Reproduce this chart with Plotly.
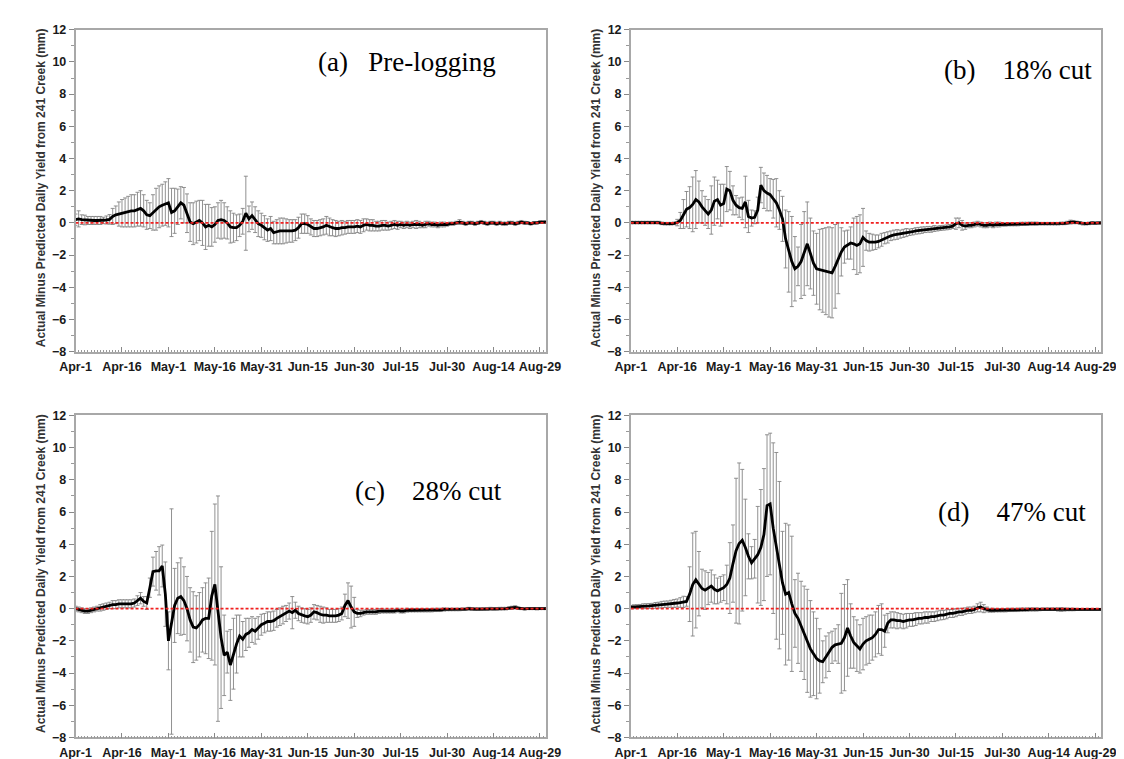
import plotly.graph_objects as go

# ---------------- data ----------------
days = list(range(153))  # day offset from Apr-1
tick_days = [0, 15, 30, 45, 60, 75, 90, 105, 120, 135, 150]
tick_labels = ["Apr-1", "Apr-16", "May-1", "May-16", "May-31", "Jun-15",
               "Jun-30", "Jul-15", "Jul-30", "Aug-14", "Aug-29"]

mean_a = [0.20, 0.25, 0.20, 0.18, 0.15, 0.15, 0.15, 0.15, 0.15, 0.15, 0.18, 0.22,
          0.40, 0.50, 0.55, 0.60, 0.65, 0.70, 0.75, 0.75, 0.85, 0.90, 0.75, 0.50,
          0.45, 0.65, 0.85, 1.00, 1.10, 1.20, 1.25, 0.65, 0.75, 1.00, 1.25, 1.10,
          0.60, 0.05, -0.05, 0.05, 0.15, 0.00, -0.25, -0.15, -0.25, -0.10, 0.15, 0.20,
          0.15, 0.00, -0.25, -0.30, -0.30, -0.15, 0.10, 0.60, 0.25, 0.45, 0.20, -0.05,
          -0.15, -0.30, -0.45, -0.35, -0.60, -0.55, -0.50, -0.50, -0.50, -0.50, -0.50, -0.45,
          -0.30, -0.05, -0.05, -0.10, -0.25, -0.35, -0.35, -0.30, -0.25, -0.15, -0.25, -0.30,
          -0.35, -0.35, -0.30, -0.30, -0.25, -0.25, -0.25, -0.20, -0.25, -0.15, -0.10, -0.15,
          -0.15, -0.20, -0.20, -0.15, -0.15, -0.20, -0.15, -0.10, -0.15, -0.10, -0.15, -0.10,
          -0.15, -0.10, -0.10, -0.10, -0.15, -0.10, -0.05, -0.10, -0.10, -0.15, -0.10, -0.10,
          -0.10, -0.05, -0.05, 0.00, 0.05, 0.00, -0.05, 0.00, 0.00, -0.05, 0.00, 0.05,
          0.00, -0.05, 0.00, 0.00, -0.05, 0.00, -0.05, -0.05, 0.00, 0.00, -0.05, 0.00,
          0.05, 0.00, 0.00, -0.05, 0.00, 0.00, 0.05, 0.05, 0.05]
err_a = [0.35, 0.50, 0.30, 0.30, 0.25, 0.25, 0.25, 0.25, 0.25, 0.20, 0.25, 0.30,
         0.50, 0.55, 0.75, 0.85, 0.90, 0.95, 1.00, 1.00, 1.05, 1.10, 1.00, 0.90,
         0.80, 1.10, 1.30, 1.30, 1.30, 1.35, 1.50, 1.50, 1.40, 1.10, 1.00, 1.10,
         1.20, 1.20, 1.30, 1.30, 1.25, 1.40, 1.40, 1.30, 1.20, 1.10, 1.10, 1.20,
         1.10, 1.00, 1.00, 0.90, 0.80, 0.70, 0.80, 2.30, 0.80, 0.85, 0.80, 0.80,
         0.75, 0.75, 0.70, 0.75, 0.70, 0.75, 0.80, 0.80, 0.75, 0.70, 0.70, 0.65,
         0.65, 0.60, 0.60, 0.55, 0.50, 0.50, 0.50, 0.50, 0.50, 0.55, 0.55, 0.50,
         0.50, 0.45, 0.45, 0.40, 0.40, 0.40, 0.40, 0.40, 0.40, 0.40, 0.35, 0.35,
         0.35, 0.30, 0.30, 0.30, 0.30, 0.25, 0.25, 0.25, 0.25, 0.20, 0.20, 0.20,
         0.20, 0.20, 0.25, 0.20, 0.15, 0.20, 0.15, 0.15, 0.15, 0.15, 0.15, 0.15,
         0.10, 0.10, 0.10, 0.10, 0.15, 0.10, 0.10, 0.10, 0.10, 0.10, 0.10, 0.10,
         0.10, 0.10, 0.10, 0.10, 0.10, 0.10, 0.10, 0.10, 0.10, 0.10, 0.10, 0.10,
         0.10, 0.10, 0.08, 0.08, 0.08, 0.08, 0.08, 0.08, 0.08]

mean_b = [0.02, 0.02, 0.02, 0.02, 0.02, 0.02, 0.02, 0.02, 0.02, 0.02, -0.03, -0.05,
          -0.05, -0.05, -0.03, 0.02, 0.15, 0.55, 0.85, 0.95, 1.15, 1.45, 1.30, 1.00,
          0.75, 0.55, 0.80, 1.35, 1.45, 1.10, 1.20, 2.10, 2.00, 1.40, 1.10, 0.95,
          0.90, 1.30, 0.40, 0.30, 0.35, 0.80, 2.35, 2.00, 1.85, 1.75, 1.50, 1.25,
          0.80, 0.25, -1.00, -1.80, -2.40, -2.85, -2.70, -2.40, -1.90, -1.30, -1.90, -2.50,
          -2.85, -2.90, -2.95, -3.00, -3.05, -3.10, -2.70, -2.20, -1.80, -1.50, -1.35, -1.25,
          -1.30, -1.40, -1.30, -0.90, -1.10, -1.20, -1.20, -1.20, -1.15, -1.05, -0.95, -0.90,
          -0.80, -0.75, -0.72, -0.70, -0.65, -0.60, -0.58, -0.55, -0.50, -0.48, -0.45, -0.42,
          -0.40, -0.40, -0.35, -0.35, -0.32, -0.30, -0.28, -0.25, -0.20, -0.05, 0.00, -0.15,
          -0.20, -0.15, -0.15, -0.10, -0.05, -0.10, -0.15, -0.15, -0.10, -0.15, -0.10, -0.10,
          -0.10, -0.10, -0.08, -0.08, -0.08, -0.08, -0.06, -0.06, -0.06, -0.05, -0.05, -0.05,
          -0.05, -0.05, -0.05, -0.05, -0.05, -0.05, -0.05, -0.03, -0.03, 0.00, 0.05, 0.05,
          0.03, 0.00, -0.05, -0.05, -0.03, 0.00, -0.02, 0.00, 0.00]
err_b = [0.08, 0.08, 0.08, 0.08, 0.08, 0.08, 0.08, 0.08, 0.08, 0.08, 0.08, 0.08,
         0.08, 0.08, 0.08, 0.20, 0.50, 0.90, 1.10, 1.30, 1.70, 1.80, 1.30, 1.00,
         0.90, 0.90, 1.50, 1.50, 1.20, 1.30, 1.20, 1.40, 1.20, 0.90, 0.60, 0.60,
         0.70, 1.60, 1.00, 0.50, 0.40, 0.80, 1.10, 1.10, 1.10, 1.00, 1.20, 1.50,
         1.20, 1.40, 1.80, 2.50, 2.80, 2.00, 1.20, 2.30, 2.60, 2.60, 2.20, 2.00,
         2.20, 2.50, 2.60, 2.70, 2.80, 2.80, 2.60, 2.20, 1.50, 1.00, 0.90, 1.00,
         1.60, 1.80, 1.80, 1.80, 0.60, 0.55, 0.50, 0.45, 0.40, 0.40, 0.35, 0.35,
         0.30, 0.30, 0.30, 0.25, 0.25, 0.25, 0.20, 0.20, 0.20, 0.20, 0.20, 0.18,
         0.18, 0.18, 0.18, 0.15, 0.15, 0.15, 0.15, 0.15, 0.15, 0.35, 0.30, 0.30,
         0.20, 0.15, 0.15, 0.15, 0.15, 0.15, 0.15, 0.15, 0.15, 0.15, 0.15, 0.15,
         0.10, 0.10, 0.10, 0.10, 0.10, 0.10, 0.10, 0.10, 0.10, 0.10, 0.10, 0.10,
         0.08, 0.08, 0.08, 0.08, 0.08, 0.08, 0.08, 0.08, 0.08, 0.10, 0.12, 0.10,
         0.08, 0.08, 0.08, 0.08, 0.08, 0.08, 0.08, 0.08, 0.08]

mean_c = [0.00, -0.05, -0.10, -0.15, -0.15, -0.10, -0.05, 0.00, 0.05, 0.10, 0.15, 0.20,
          0.25, 0.25, 0.30, 0.30, 0.30, 0.30, 0.30, 0.35, 0.50, 0.65, 0.45, 0.35,
          1.30, 2.30, 2.35, 2.35, 2.65, 0.90, -2.00, -0.80, 0.20, 0.65, 0.75, 0.50,
          0.00, -0.70, -1.15, -1.20, -1.00, -0.70, -0.60, -0.60, 0.80, 1.50, 0.00, -1.80,
          -2.90, -2.70, -3.50, -2.80, -2.20, -1.70, -1.90, -1.60, -1.50, -1.30, -1.40, -1.20,
          -1.00, -0.90, -0.80, -0.80, -0.75, -0.60, -0.50, -0.40, -0.30, -0.15, -0.25, -0.10,
          -0.30, -0.40, -0.45, -0.50, -0.40, -0.20, -0.25, -0.35, -0.40, -0.40, -0.45, -0.45,
          -0.45, -0.40, -0.30, 0.20, 0.50, 0.10, -0.20, -0.30, -0.30, -0.25, -0.20, -0.20,
          -0.20, -0.20, -0.15, -0.15, -0.15, -0.15, -0.15, -0.15, -0.10, -0.15, -0.15, -0.10,
          -0.10, -0.10, -0.10, -0.10, -0.10, -0.10, -0.10, -0.10, -0.08, -0.08, -0.08, -0.05,
          -0.05, -0.05, -0.05, -0.05, -0.05, -0.03, -0.03, 0.00, -0.03, -0.03, -0.03, -0.03,
          -0.03, -0.03, 0.00, -0.02, -0.02, 0.00, 0.00, 0.00, 0.03, 0.05, 0.08, 0.03,
          0.00, -0.02, 0.00, 0.00, 0.00, -0.02, 0.00, 0.00, 0.00]
err_c = [0.15, 0.15, 0.15, 0.15, 0.15, 0.15, 0.15, 0.15, 0.20, 0.20, 0.20, 0.20,
         0.25, 0.25, 0.25, 0.25, 0.25, 0.25, 0.25, 0.25, 0.30, 0.35, 0.30, 0.40,
         0.60, 0.90, 1.20, 1.50, 1.30, 2.00, 1.80, 7.00, 2.30, 2.20, 2.40, 2.10,
         2.00, 2.00, 2.20, 2.00, 2.00, 2.00, 2.20, 2.50, 4.00, 5.00, 7.00, 4.40,
         2.50, 1.30, 2.20, 2.20, 1.80, 1.30, 1.10, 1.00, 0.90, 0.80, 0.80, 0.70,
         0.65, 0.60, 0.60, 0.60, 0.60, 0.55, 0.55, 0.55, 0.50, 0.50, 1.00, 0.50,
         0.45, 0.45, 0.45, 0.45, 0.45, 0.45, 0.45, 0.50, 0.50, 0.45, 0.40, 0.40,
         0.40, 0.40, 0.40, 0.70, 1.10, 1.30, 0.90, 0.25, 0.20, 0.15, 0.15, 0.15,
         0.15, 0.15, 0.15, 0.12, 0.12, 0.12, 0.12, 0.12, 0.12, 0.12, 0.12, 0.12,
         0.10, 0.10, 0.10, 0.10, 0.10, 0.10, 0.10, 0.10, 0.10, 0.10, 0.10, 0.10,
         0.08, 0.08, 0.08, 0.08, 0.08, 0.08, 0.08, 0.08, 0.08, 0.08, 0.08, 0.08,
         0.08, 0.08, 0.08, 0.08, 0.08, 0.08, 0.08, 0.08, 0.08, 0.10, 0.10, 0.08,
         0.06, 0.06, 0.06, 0.06, 0.06, 0.06, 0.06, 0.06, 0.06]

mean_d = [0.10, 0.12, 0.13, 0.14, 0.15, 0.16, 0.17, 0.18, 0.20, 0.22, 0.25, 0.27,
          0.28, 0.30, 0.32, 0.35, 0.38, 0.42, 0.45, 0.90, 1.50, 1.80, 1.55, 1.25,
          1.15, 1.25, 1.40, 1.20, 1.10, 1.20, 1.30, 1.50, 1.90, 2.80, 3.60, 4.05,
          4.25, 3.80, 3.25, 2.85, 3.10, 3.35, 3.80, 4.60, 6.40, 6.50, 5.00, 3.90,
          2.70, 1.60, 0.90, 1.00, 0.30, -0.30, -0.60, -1.10, -1.50, -2.00, -2.50, -2.80,
          -3.10, -3.25, -3.30, -3.00, -2.70, -2.40, -2.25, -2.20, -2.15, -1.80, -1.20, -1.70,
          -2.10, -2.30, -2.50, -2.20, -2.00, -1.90, -1.80, -1.60, -1.30, -1.30, -1.40, -0.90,
          -0.70, -0.70, -0.75, -0.75, -0.80, -0.75, -0.70, -0.70, -0.65, -0.60, -0.60, -0.55,
          -0.55, -0.50, -0.50, -0.45, -0.40, -0.40, -0.35, -0.30, -0.30, -0.25, -0.20, -0.20,
          -0.15, -0.10, -0.10, -0.05, 0.05, 0.10, 0.00, -0.05, -0.10, -0.10, -0.10, -0.10,
          -0.10, -0.10, -0.08, -0.08, -0.08, -0.08, -0.06, -0.06, -0.06, -0.05, -0.05, -0.05,
          -0.05, -0.03, -0.03, -0.03, -0.03, -0.03, -0.05, -0.05, -0.05, -0.05, -0.05, -0.05,
          -0.05, -0.05, -0.05, -0.05, -0.05, -0.05, -0.05, -0.05, -0.05]
err_d = [0.10, 0.12, 0.12, 0.12, 0.15, 0.15, 0.15, 0.15, 0.18, 0.18, 0.20, 0.20,
         0.20, 0.22, 0.25, 0.25, 0.30, 0.35, 0.30, 1.70, 3.20, 3.00, 2.00, 1.20,
         1.20, 1.00, 1.00, 0.90, 0.80, 0.80, 0.80, 1.20, 2.20, 2.40, 4.50, 5.00,
         4.40, 3.00, 1.40, 1.00, 1.20, 3.00, 3.60, 4.10, 4.40, 4.40, 5.30, 5.80,
         5.20, 3.20, 4.40, 4.20, 4.20, 2.10, 2.80, 2.80, 2.90, 3.20, 3.00, 2.60,
         2.50, 2.00, 1.30, 1.30, 1.20, 1.00, 1.00, 1.20, 3.10, 3.30, 3.00, 2.00,
         1.60, 1.60, 1.50, 1.60, 1.50, 1.50, 1.40, 1.40, 1.50, 1.60, 1.00, 0.60,
         0.50, 0.50, 0.50, 0.45, 0.45, 0.45, 0.40, 0.40, 0.40, 0.35, 0.35, 0.35,
         0.35, 0.30, 0.30, 0.30, 0.30, 0.28, 0.28, 0.25, 0.25, 0.25, 0.22, 0.22,
         0.20, 0.20, 0.20, 0.20, 0.25, 0.30, 0.25, 0.15, 0.12, 0.12, 0.10, 0.10,
         0.10, 0.10, 0.10, 0.10, 0.10, 0.10, 0.10, 0.10, 0.10, 0.10, 0.10, 0.10,
         0.08, 0.08, 0.08, 0.08, 0.08, 0.08, 0.10, 0.12, 0.10, 0.08, 0.08, 0.08,
         0.06, 0.06, 0.06, 0.06, 0.06, 0.06, 0.06, 0.06, 0.06]

panel_titles = ["(a)\u00a0\u00a0\u00a0Pre-logging", "(b)\u00a0\u00a0\u00a0\u00a018% cut",
                "(c)\u00a0\u00a0\u00a0\u00a028% cut", "(d)\u00a0\u00a0\u00a0\u00a047% cut"]
y_title = "Actual Minus Predicted Daily Yield from 241 Creek (mm)"

# ---------------- layout geometry ----------------
W, H = 1124, 759
xdoms = [[53 / W, 537 / W], [624 / W, 1108 / W]]
ydoms = [[1 - 343 / H, 1 - 15 / H], [1 - 736 / H, 1 - 408 / H]]
# (col, row) for a, b, c, d
grid = [(0, 0), (1, 0), (0, 1), (1, 1)]
label_pos = [(107, 10.0), (125, 9.5), (114, 7.3), (123, 6.0)]
ytitle_x = [17, 588]
ytitle_y = [176, 569]

fig = go.Figure()
series = [(mean_a, err_a), (mean_b, err_b), (mean_c, err_c), (mean_d, err_d)]

tickfont = dict(family="Liberation Sans, Arial, sans-serif", size=12.5, color="#1a1a1a", weight="bold")
axcol = "#a8a8a8"

for i, ((m, e), (col, row)) in enumerate(zip(series, grid)):
    sfx = "" if i == 0 else str(i + 1)
    xa, ya = "x" + sfx, "y" + sfx
    fig.add_trace(go.Scatter(
        x=days, y=m, mode="markers", marker=dict(size=0.1, color="rgba(0,0,0,0)"),
        error_y=dict(type="data", array=e, visible=True, color="#858585",
                     thickness=0.9, width=2),
        xaxis=xa, yaxis=ya, showlegend=False, hoverinfo="skip"))
    fig.add_trace(go.Scatter(
        x=days, y=m, mode="lines", line=dict(color="black", width=2.8),
        xaxis=xa, yaxis=ya, showlegend=False))
    fig.add_trace(go.Scatter(
        x=[0, 152], y=[0, 0], mode="lines",
        line=dict(color="#f02020", width=1.6, dash="3px,2px"),
        xaxis=xa, yaxis=ya, showlegend=False, hoverinfo="skip"))

    fig.layout["xaxis" + sfx] = dict(
        domain=xdoms[col], anchor=ya, range=[0, 152], tickmode="array",
        tickvals=tick_days, ticktext=tick_labels, ticks="inside", ticklen=5,
        tickcolor="#888", tickwidth=1, tickfont=tickfont, ticklabelstandoff=3,
        showgrid=False, zeroline=False, showline=True, linecolor=axcol,
        linewidth=1.5, mirror=True,
        minor=dict(dtick=1, tick0=0, ticks="inside", ticklen=2, tickcolor="#999",
                   tickwidth=1, showgrid=False))
    fig.layout["yaxis" + sfx] = dict(
        domain=ydoms[row], anchor=xa, range=[-8, 12], tickmode="linear",
        tick0=-8, dtick=2, ticks="outside", ticklen=5, tickcolor="#888",
        tickwidth=1, tickfont=tickfont, showgrid=False, zeroline=False,
        showline=True, linecolor=axcol, linewidth=1.5, mirror=True,
        minor=dict(dtick=1, ticks="outside", ticklen=3, tickcolor="#999",
                   tickwidth=1, showgrid=False))

    lx, ly = label_pos[i]
    fig.add_annotation(x=lx, y=ly, xref=xa, yref=ya, text=panel_titles[i],
                       showarrow=False, xanchor="center", yanchor="middle",
                       font=dict(family="Liberation Serif, Times New Roman, serif",
                                 size=27, color="black"))
    fig.add_annotation(x=ytitle_x[col] / W, y=1 - ytitle_y[row] / H,
                       xref="paper", yref="paper", text=y_title, textangle=-90,
                       showarrow=False, xanchor="center", yanchor="middle",
                       font=dict(family="Liberation Sans, Arial, sans-serif",
                                 size=12, color="#333333", weight="bold"))

fig.update_layout(width=W, height=H, margin=dict(l=0, r=0, t=0, b=0),
                  paper_bgcolor="white", plot_bgcolor="white")

fig.write_html("out.html")
